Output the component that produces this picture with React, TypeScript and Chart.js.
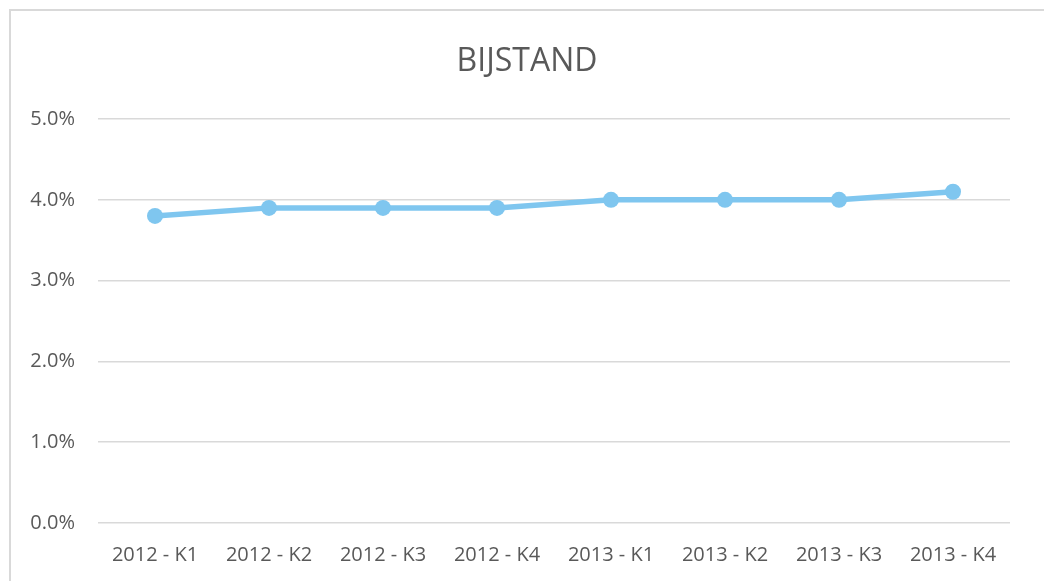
import React, { useEffect, useRef } from "react";
import { Chart, registerables } from "chart.js";

Chart.register(...registerables);

const categories = ["2012 - K1", "2012 - K2", "2012 - K3", "2012 - K4", "2013 - K1", "2013 - K2", "2013 - K3", "2013 - K4"];
const values = [3.8, 3.9, 3.9, 3.9, 4.0, 4.0, 4.0, 4.1];
const yTicks = [0, 1, 2, 3, 4, 5];
const title = "BIJSTAND";

const FONT = "'Open Sans', 'Noto Sans', sans-serif";
const TEXT = "#595959";
const GRID = "#d9d9d9";
const LINE = "#7fc6ef";

const titlePlugin = {
  id: "centerTitle",
  afterDraw(chart: any) {
    const ctx = chart.ctx;
    ctx.save();
    ctx.fillStyle = TEXT;
    ctx.font = `normal 32px ${FONT}`;
    ctx.textAlign = "center";
    ctx.textBaseline = "middle";
    ctx.fillText(title, 527, 62);
    ctx.restore();
  },
};

export default function App() {
  const ref = useRef<HTMLCanvasElement | null>(null);
  useEffect(() => {
    if (!ref.current) return;
    const chart = new Chart(ref.current, {
      type: "line",
      data: {
        labels: categories,
        datasets: [
          {
            data: values,
            borderColor: LINE,
            backgroundColor: LINE,
            borderWidth: 5.5,
            pointRadius: 8,
            pointBorderWidth: 0,
            pointBackgroundColor: LINE,
            tension: 0,
          },
        ],
      },
      plugins: [titlePlugin],
      options: {
        responsive: false,
        animation: false,
        layout: { padding: { left: 0, right: 34, top: 119, bottom: 0 } },
        plugins: {
          legend: { display: false },
          tooltip: { enabled: false },
          title: { display: false },
        },
        scales: {
          x: {
            offset: true,
            grid: { display: false, drawTicks: false },
            border: { display: false },
            ticks: { color: TEXT, font: { family: FONT, size: 20, lineHeight: 1.2 }, padding: 20, maxRotation: 0 },
            afterFit: (s: any) => { s.height = 58; },
          },
          y: {
            min: 0,
            max: 5,
            afterBuildTicks: (s: any) => { s.ticks = yTicks.map((v) => ({ value: v })); },
            grid: { color: GRID, lineWidth: 1.5, drawTicks: false },
            border: { display: false },
            ticks: {
              color: TEXT,
              font: { family: FONT, size: 20 },
              padding: 23,
              callback: (v: any) => Number(v).toFixed(1) + "%",
            },
            afterFit: (s: any) => { s.width = 98; },
          },
        },
      },
    });
    return () => chart.destroy();
  }, []);
  return (
    <div style={{ position: "fixed", left: 0, top: 0, width: 1044, height: 581, background: "#fff", overflow: "hidden" }}>
      <div style={{ position: "absolute", left: 9, top: 9, width: 1200, height: 700, borderTop: "2px solid #d9d9d9", borderLeft: "2px solid #d9d9d9" }} />
      <canvas ref={ref} width={1044} height={581} style={{ position: "absolute", left: 0, top: 0 }} />
    </div>
  );
}
